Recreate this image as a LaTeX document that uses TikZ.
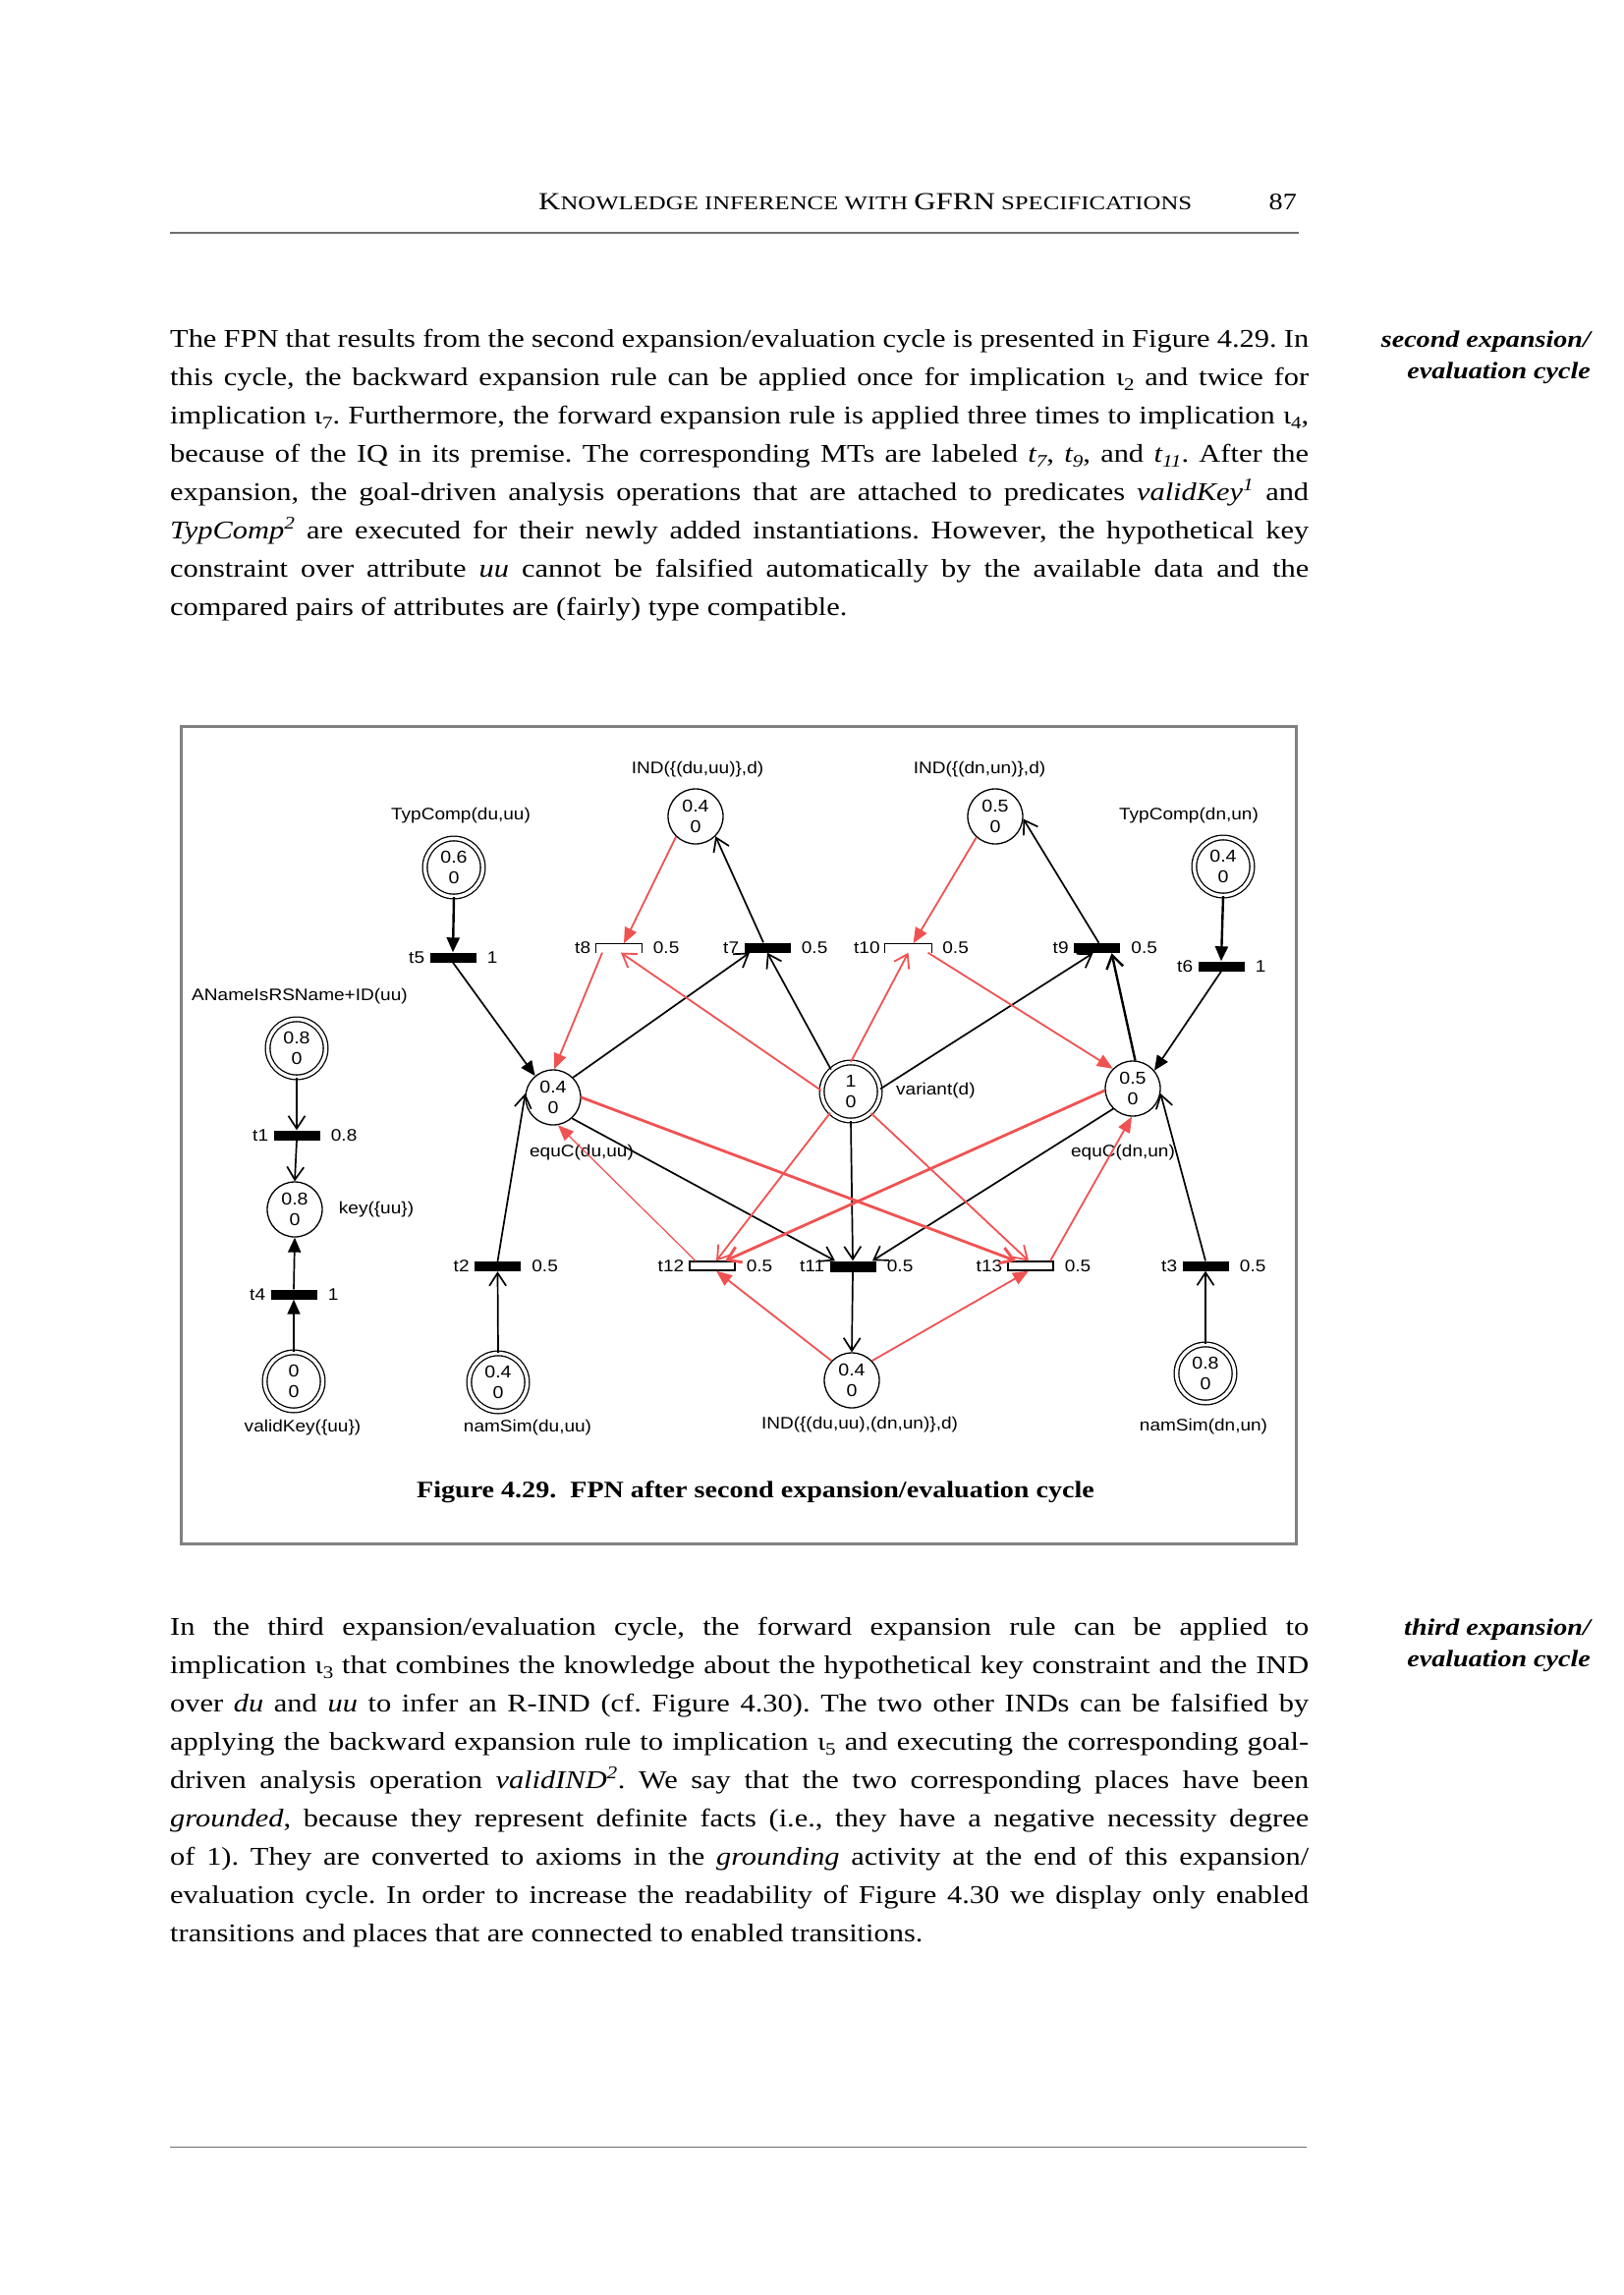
\documentclass[tikz,border=0pt]{standalone}
\usepackage{fontspec}
\setmainfont[FakeStretch=1.17]{Liberation Serif}
\setsansfont[FakeStretch=1.12]{Liberation Sans}
\usetikzlibrary{arrows.meta}
\frenchspacing
\definecolor{pnred}{RGB}{240,82,82}
\definecolor{framegray}{RGB}{128,128,128}
\definecolor{rulegray}{RGB}{110,110,110}
\newcommand\bodyfont{\fontsize{26}{39}\selectfont}
\newcommand\notefont{\fontsize{24}{34}\selectfont\bfseries\itshape}
\newcommand\capfont{\fontsize{24}{30}\selectfont\bfseries}
\newcommand\figfont{\sffamily\fontsize{17}{20}\selectfont}
\newcommand\tokfont{\sffamily\fontsize{17.5}{21.5}\selectfont}
\newcommand\sub[1]{\raisebox{-0.22em}{\fontsize{18}{20}\selectfont #1}}
\newcommand\tw{1159pt}
\tikzset{
  textline/.style={anchor=base west, inner sep=0pt, font=\bodyfont},
  note/.style={anchor=base east, inner sep=0pt, font=\notefont},
  place/.style={circle, draw, line width=1.3pt, minimum size=56pt, inner sep=0pt, align=center, font=\tokfont},
  dplace/.style={circle, draw, double, double distance=3.4pt, line width=1.3pt, minimum size=59pt, inner sep=0pt, align=center, font=\tokfont},
  bar/.style={rectangle, fill=black, minimum width=47pt, minimum height=10pt, inner sep=0pt},
  wbar/.style={rectangle, draw, fill=white, line width=1.2pt, minimum width=46pt, minimum height=9pt, inner sep=0pt},
  obar/.style={rectangle, minimum width=47pt, minimum height=9pt, inner sep=0pt},
  lbl/.style={font=\figfont, inner sep=0pt},
  tname/.style={font=\figfont, inner sep=0pt, anchor=east},
  tval/.style={font=\figfont, inner sep=0pt, anchor=west},
  ba/.style={draw=black, line width=1.7pt, -{Straight Barb[length=13pt,width=17pt]}},
  bf/.style={draw=black, line width=1.7pt, -{Triangle[length=15pt,width=13pt]}},
  ra/.style={draw=pnred, line width=1.8pt, -{Straight Barb[length=13pt,width=17pt]}},
  rf/.style={draw=pnred, fill=pnred, line width=1.8pt, -{Triangle[length=16pt,width=13pt]}},
}
\begin{document}
\begin{tikzpicture}[x=1pt,y=-1pt]
\fill[white] (0,0) rectangle (1653,2336);
\useasboundingbox (0,0) rectangle (1653,2336);

% header
\node[anchor=base west, inner sep=0pt] (hdr) at (548,214) {\resizebox{665pt}{\height}{\fontsize{25}{30}\selectfont K{\fontsize{20}{30}\selectfont NOWLEDGE INFERENCE WITH }GFRN{\fontsize{20}{30}\selectfont{} SPECIFICATIONS}}};
\node[anchor=base east, inner sep=0pt, font=\fontsize{24}{30}\selectfont] (pgno) at (1320,214) {87};
\draw[rulegray, line width=1.3pt] (173,237) -- (1322,237);

% paragraph 1
\node[textline] (a1) at (173,353) {\hbox to \tw{The FPN that results from the second expansion/evaluation cycle is presented in Figure 4.29. In}};
\node[textline] (a2) at (173,392) {\hbox to \tw{this cycle, the backward expansion rule can be applied once for implication ι\sub{2} and twice for}};
\node[textline] (a3) at (173,431) {\hbox to \tw{implication ι\sub{7}. Furthermore, the forward expansion rule is applied three times to implication ι\sub{4},}};
\node[textline] (a4) at (173,470) {\hbox to \tw{because of the IQ in its premise. The corresponding MTs are labeled \textit{t\sub{7}}, \textit{t\sub{9}}, and \textit{t\sub{11}}. After the}};
\node[textline] (a5) at (173,509) {\hbox to \tw{expansion, the goal-driven analysis operations that are attached to predicates \textit{validKey\textsuperscript{1}} and}};
\node[textline] (a6) at (173,548) {\hbox to \tw{\textit{TypComp\textsuperscript{2}} are executed for their newly added instantiations. However, the hypothetical key}};
\node[textline] (a7) at (173,587) {\hbox to \tw{constraint over attribute \textit{uu} cannot be falsified automatically by the available data and the}};
\node[textline] (a8) at (173,626) {compared pairs of attributes are (fairly) type compatible.};
\node[note] (m1a) at (1619,353) {second expansion/};
\node[note] (m1b) at (1619,385) {evaluation cycle};

% figure frame
\draw[framegray, line width=3pt] (184,739) rectangle (1319,1571);

% places
\node[place]  (pINDdu) at (708,831)  {0.4\\0};
\node[place]  (pINDdn) at (1013,831) {0.5\\0};
\node[dplace] (pTCdu)  at (462,883)  {0.6\\0};
\node[dplace] (pTCdn)  at (1245,882) {0.4\\0};
\node[dplace] (pAN)    at (302,1067) {0.8\\0};
\node[place]  (pEqdu)  at (563,1117) {0.4\\0};
\node[dplace] (pVar)   at (866,1111) {1\\0};
\node[place]  (pEqdn)  at (1153,1108) {0.5\\0};
\node[place]  (pKey)   at (300,1231) {0.8\\0};
\node[dplace] (pVK)    at (299,1406) {0\\0};
\node[dplace] (pNSdu)  at (507,1407) {0.4\\0};
\node[place]  (pINDb)  at (867,1405) {0.4\\0};
\node[dplace] (pNSdn)  at (1227,1398) {0.8\\0};

% place labels
\node[lbl] (lINDdu) at (710,783) {IND(\{(du,uu)\},d)};
\node[lbl] (lINDdn) at (997,783) {IND(\{(dn,un)\},d)};
\node[lbl] (lTCdu) at (469,830) {TypComp(du,uu)};
\node[lbl] (lTCdn) at (1210,830) {TypComp(dn,un)};
\node[lbl] (lAN) at (305,1014) {ANameIsRSName+ID(uu)};
\node[lbl, anchor=west] (lVar) at (912,1110) {variant(d)};
\node[lbl] (lEqdu) at (592,1173) {equC(du,uu)};
\node[lbl] (lEqdn) at (1143,1173) {equC(dn,un)};
\node[lbl] (lKey) at (383,1231) {key(\{uu\})};
\node[lbl] (lVK) at (308,1453) {validKey(\{uu\})};
\node[lbl] (lNSdu) at (537,1453) {namSim(du,uu)};
\node[lbl] (lINDb) at (875,1450) {IND(\{(du,uu),(dn,un)\},d)};
\node[lbl] (lNSdn) at (1225,1452) {namSim(dn,un)};

% transitions
\node[bar]  (t5)  at (461,974.5) {};
\node[obar] (t8)  at (630,965) {};
\node[bar]  (t7)  at (781,964.5) {};
\node[obar] (t10) at (924.5,965) {};
\node[bar]  (t9)  at (1116.5,965) {};
\node[bar]  (t6)  at (1243,983.5) {};
\node[bar]  (t1)  at (302,1155.5) {};
\node[bar]  (t4)  at (299,1317.5) {};
\node[bar]  (t2)  at (506.5,1289) {};
\node[wbar] (t12) at (725,1288.5) {};
\node[bar, minimum height=11pt]  (t11) at (868,1289) {};
\node[wbar] (t13) at (1049,1288.5) {};
\node[bar]  (t3)  at (1227,1288.5) {};
\draw[line width=1.2pt] (t8.south west) -- (t8.north west) -- (t8.north east) -- (t8.south east);
\draw[line width=1.2pt] (t10.south west) -- (t10.north west) -- (t10.north east) -- (t10.south east);

% transition labels
\foreach \t/\w in {t5/1,t8/0.5,t7/0.5,t10/0.5,t9/0.5,t6/1,t1/0.8,t4/1,t2/0.5,t12/0.5,t11/0.5,t13/0.5,t3/0.5}{
  \node[tname] (\t n) at ([xshift=-5pt]\t.west) {\t};
  \node[tval] (\t v) at ([xshift=11pt]\t.east) {\w};
}

% black arcs
\draw[bf, line width=2.4pt] (pTCdu.south) -- (t5.north);
\draw[bf] (t5.south) -- (pEqdu.130);
\draw[ba] (pAN.south) -- (t1.north);
\draw[ba] (t1.south) -- (pKey.north);
\draw[bf] (pVK.north) -- (t4.south);
\draw[bf] (t4.north) -- (pKey.south);
\draw[ba] (pNSdu.north) -- (t2.south);
\draw[ba] (t2.north) -- (pEqdu.172);
\draw[ba] (pEqdu.45) -- ([xshift=-18pt]t7.south);
\draw[ba] (pVar.132) -- (t7.south);
\draw[ba] ([xshift=-4pt]t7.north) -- (pINDdu.-45);
\draw[ba] (pVar.5) -- ([xshift=-4pt]t9.south);
\draw[ba, line width=2.4pt] (pEqdn.85) -- ([xshift=15pt]t9.south);
\draw[ba] ([xshift=2pt]t9.north) -- (pINDdn.-5);
\draw[bf, line width=2.4pt] (pTCdn.south) -- (t6.north);
\draw[bf] (t6.south) -- (pEqdn.40);
\draw[ba] (pNSdn.north) -- (t3.south);
\draw[ba] (t3.north) -- (pEqdn.-10);
\draw[ba] (pEqdu.-48) -- ([xshift=-18pt]t11.north);
\draw[ba] (pVar.south) -- (t11.north);
\draw[ba] (pEqdn.226) -- ([xshift=20pt]t11.north);
\draw[ba] (t11.south) -- (pINDb.north);

% red arcs
\draw[rf] (pINDdu.226) -- ([xshift=5pt]t8.north);
\draw[rf] ([xshift=-17pt]t8.south) -- (pEqdu.88);
\draw[ra] (pVar.178) -- ([xshift=2pt]t8.south);
\draw[rf] (pINDdn.228) -- ([xshift=5pt]t10.north);
\draw[ra] (pVar.90) -- (t10.south);
\draw[rf] ([xshift=20pt]t10.south) -- (pEqdn.135);
\draw[ra, line width=2.8pt] (pEqdu.0) -- ([xshift=-15pt]t13.north);
\draw[ra] (pVar.-47) -- ([xshift=-2pt]t13.north);
\draw[rf] ([xshift=20pt]t13.north) -- (pEqdn.-92);
\draw[rf] (pINDb.44) -- ([xshift=-2pt]t13.south);
\draw[ra, line width=2.8pt] (pEqdn.184) -- ([xshift=13pt]t12.north);
\draw[ra] (pVar.226) -- ([xshift=4pt]t12.north);
\draw[rf, line width=1.2pt] ([xshift=-17pt]t12.north) -- (pEqdu.-80);
\draw[rf] (pINDb.136) -- ([xshift=4pt]t12.south);

% caption
\node[anchor=base, inner sep=0pt, font=\capfont] (cap) at (769,1524) {Figure 4.29.\ \ FPN after second expansion/evaluation cycle};

% paragraph 2
\node[textline] (b1) at (173,1664) {\hbox to \tw{In the third expansion/evaluation cycle, the forward expansion rule can be applied to}};
\node[textline] (b2) at (173,1703) {\hbox to \tw{implication ι\sub{3} that combines the knowledge about the hypothetical key constraint and the IND}};
\node[textline] (b3) at (173,1742) {\hbox to \tw{over \textit{du} and \textit{uu} to infer an R-IND (cf. Figure 4.30). The two other INDs can be falsified by}};
\node[textline] (b4) at (173,1781) {\hbox to \tw{applying the backward expansion rule to implication ι\sub{5} and executing the corresponding goal-}};
\node[textline] (b5) at (173,1820) {\hbox to \tw{driven analysis operation \textit{validIND\textsuperscript{2}}. We say that the two corresponding places have been}};
\node[textline] (b6) at (173,1859) {\hbox to \tw{\textit{grounded}, because they represent definite facts (i.e., they have a negative necessity degree}};
\node[textline] (b7) at (173,1898) {\hbox to \tw{of 1). They are converted to axioms in the \textit{grounding} activity at the end of this expansion/}};
\node[textline] (b8) at (173,1937) {\hbox to \tw{evaluation cycle. In order to increase the readability of Figure 4.30 we display only enabled}};
\node[textline] (b9) at (173,1976) {transitions and places that are connected to enabled transitions.};
\node[note] (m2a) at (1619,1664) {third expansion/};
\node[note] (m2b) at (1619,1696) {evaluation cycle};

% bottom rule
\draw[rulegray, line width=1pt] (173,2185) -- (1330,2185);
\end{tikzpicture}
\end{document}
